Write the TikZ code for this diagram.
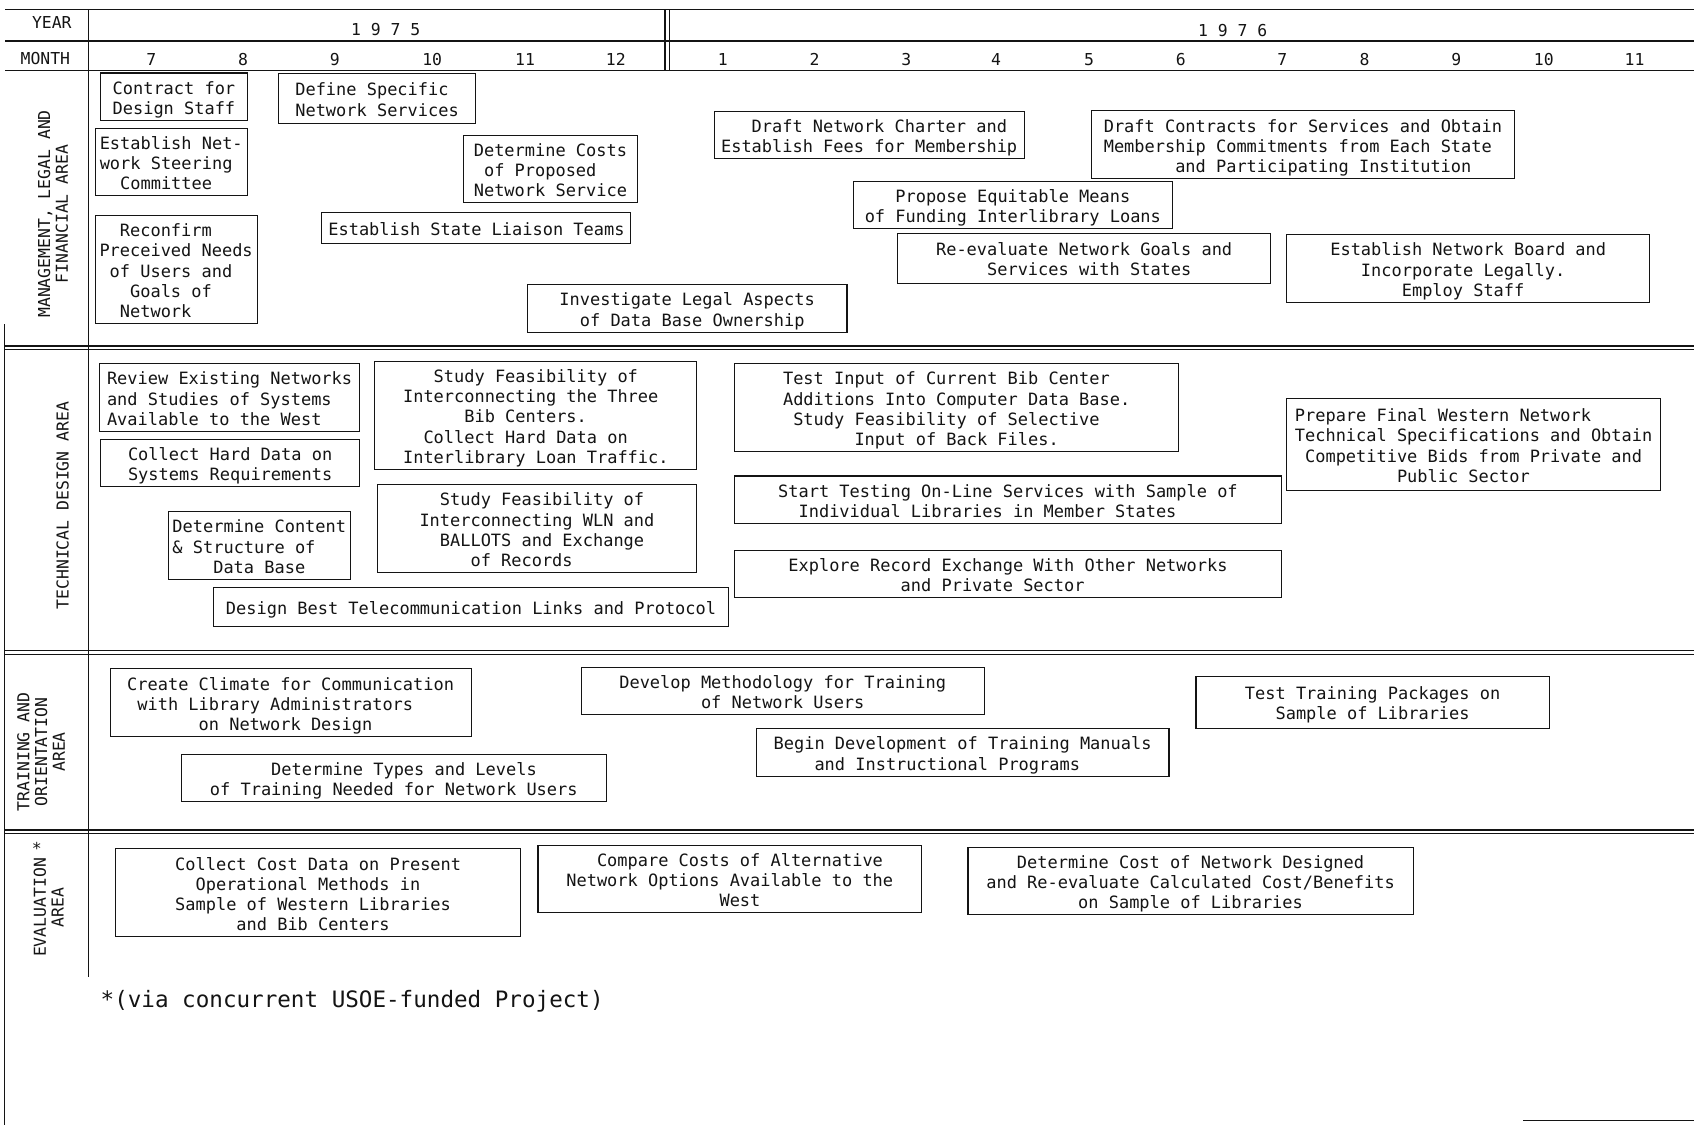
\documentclass[tikz,border=0pt]{standalone}
\usepackage{fontspec}
\newfontfamily\monofam{DejaVu Sans Mono}
\newlength\chw
\setlength\chw{9.45pt}
\newcommand\ind[1]{\hspace*{#1\chw}}
\definecolor{ink}{gray}{0.08}
\tikzset{
  boxtxt/.style={font=\monofam\fontsize{15.7pt}{18.8pt}\selectfont},
  taskbox/.style={draw=ink, line width=1pt, inner sep=0pt, align=left, text=ink, boxtxt},
  lbl/.style={inner sep=0pt, text=ink, align=center, font=\monofam\fontsize{15.2pt}{16.5pt}\selectfont},
  rule/.style={draw=ink, line width=1.2pt},
  divider/.style={draw=ink, line width=1.5pt},
  thinrule/.style={draw=ink, line width=0.8pt},
}
\newcommand\bx[6]{%
  \pgfmathsetmacro\tkW{#4-#2}\pgfmathsetmacro\tkH{#5-#3}%
  \pgfmathsetmacro\tkX{(#2+#4)/2}\pgfmathsetmacro\tkY{(#3+#5)/2}%
  \node[taskbox, minimum width=\tkW pt, minimum height=\tkH pt] (#1) at (\tkX,\tkY) {\rule{0pt}{19.5pt}#6\rule[-5.5pt]{0pt}{5.5pt}};}
\begin{document}
\begin{tikzpicture}[x=1pt,y=-1pt]
\fill[white] (0,0) rectangle (1568,1041);
\useasboundingbox (0,0) rectangle (1568,1041);

% header grid
\draw[rule] (5,9) -- (1568,9);
\draw[rule] (5,38) -- (1568,38);
\draw[rule] (5,65) -- (1568,65);
\draw[rule] (82,9) -- (82,904);
\draw[rule] (615.5,9) -- (615.5,65);
\draw[rule] (620,9) -- (620,65);
\draw[rule] (4,300) -- (4,1041);
% section dividers
\foreach \yy in {320,602,768}{
  \draw[divider] (4,\yy) -- (1568,\yy);
  \draw[thinrule] (4,\yy+3.5) -- (1568,\yy+3.5);
}
\draw[divider] (1410,1037) -- (1568,1037);

% header text
\node[lbl] (year) at (48,21) {YEAR};
\node[lbl] (month) at (42,54) {MONTH};
\node[lbl] (y75) at (357,27) {1 9 7 5};
\node[lbl] (y76) at (1141,28) {1 9 7 6};
\foreach \mx/\mt [count=\i] in {140/7,225/8,310/9,400/10,486/11,570/12,669/1,754/2,839/3,922/4,1008/5,1093/6,1187/7,1263/8,1348/9,1429/10,1513/11}{
  \node[lbl] (m\i) at (\mx,55) {\mt};
}

% area labels
\node[lbl, rotate=90] (lman) at (49,198) {MANAGEMENT, LEGAL AND\\FINANCIAL AREA};
\node[lbl, rotate=90] (ltech) at (58,468) {TECHNICAL DESIGN AREA};
\node[lbl, rotate=90] (ltrain) at (38,696) {TRAINING AND\\ORIENTATION\\AREA};
\node[lbl, rotate=90] (leval) at (45,840) {EVALUATION\\AREA};
\node[lbl] (star) at (34,785) {*};

% management
\bx{b1}{93}{69}{229}{110}{Contract for\\Design Staff}
\bx{b2}{258}{68}{440}{114}{Define Specific\\Network Services}
\bx{b3}{88}{120}{229}{180}{Establish Net-\\work Steering\\\ind{2}Committee}
\bx{b4}{429}{126}{590}{187}{Determine Costs\\\ind{1}of Proposed\\Network Service}
\bx{b5}{298}{197}{584}{225}{Establish State Liaison Teams}
\bx{b6}{88}{200}{238}{299}{\ind{2}Reconfirm\\Preceived Needs\\\ind{1}of Users and\\\ind{3}Goals of\\\ind{2}Network}
\bx{b7}{488}{264}{784}{307}{Investigate Legal Aspects\\\ind{2}of Data Base Ownership}
\bx{b8}{661}{104}{948}{146}{\ind{3}Draft Network Charter and\\Establish Fees for Membership}
\bx{b9}{1010}{104}{1402}{164}{Draft Contracts for Services and Obtain\\Membership Commitments from Each State\\\ind{7}and Participating Institution}
\bx{b10}{790}{168}{1085}{211}{\ind{3}Propose Equitable Means\\of Funding Interlibrary Loans}
\bx{b11}{831}{216}{1176}{262}{Re-evaluate Network Goals and\\\ind{5}Services with States}
\bx{b12}{1191}{217}{1527}{280}{Establish Network Board and\\\ind{3}Incorporate Legally.\\\ind{7}Employ Staff}

% technical
\bx{b13}{92}{338}{333}{398}{Review Existing Networks\\and Studies of Systems\\Available to the West}
\bx{b14}{93}{407}{333}{450}{Collect Hard Data on\\Systems Requirements}
\bx{b15}{347}{336}{645}{433}{\ind{3}Study Feasibility of\\Interconnecting the Three\\\ind{6}Bib Centers.\\\ind{2}Collect Hard Data on\\Interlibrary Loan Traffic.}
\bx{b16}{156}{475}{324}{535}{Determine Content\\\& Structure of\\\ind{4}Data Base}
\bx{b17}{349}{449}{645}{530}{\ind{2}Study Feasibility of\\Interconnecting WLN and\\\ind{2}BALLOTS and Exchange\\\ind{5}of Records}
\bx{b18}{198}{544}{674}{580}{Design Best Telecommunication Links and Protocol}
\bx{b19}{680}{337}{1091}{418}{Test Input of Current Bib Center\\Additions Into Computer Data Base.\\\ind{1}Study Feasibility of Selective\\\ind{7}Input of Back Files.}
\bx{b20}{680}{441}{1186}{484}{Start Testing On-Line Services with Sample of\\\ind{2}Individual Libraries in Member States}
\bx{b21}{680}{510}{1186}{553}{Explore Record Exchange With Other Networks\\\ind{11}and Private Sector}
\bx{b22}{1191}{369}{1537}{454}{Prepare Final Western Network\\Technical Specifications and Obtain\\\ind{1}Competitive Bids from Private and\\\ind{10}Public Sector}

% training
\bx{b23}{102}{619}{436}{682}{Create Climate for Communication\\\ind{1}with Library Administrators\\\ind{7}on Network Design}
\bx{b24}{168}{698}{561}{742}{\ind{6}Determine Types and Levels\\of Training Needed for Network Users}
\bx{b25}{538}{618}{911}{661}{Develop Methodology for Training\\\ind{8}of Network Users}
\bx{b26}{700}{675}{1082}{718}{Begin Development of Training Manuals\\\ind{4}and Instructional Programs}
\bx{b27}{1107}{626}{1434}{674}{Test Training Packages on\\\ind{3}Sample of Libraries}

% evaluation
\bx{b28}{107}{788}{482}{865}{Collect Cost Data on Present\\\ind{2}Operational Methods in\\Sample of Western Libraries\\\ind{6}and Bib Centers}
\bx{b29}{498}{784}{853}{843}{\ind{3}Compare Costs of Alternative\\Network Options Available to the\\\ind{15}West}
\bx{b30}{896}{786}{1308}{845}{\ind{3}Determine Cost of Network Designed\\and Re-evaluate Calculated Cost/Benefits\\\ind{9}on Sample of Libraries}

% footnote
\node[anchor=west, inner sep=0pt, text=ink, font=\monofam\fontsize{20.9pt}{24pt}\selectfont] (fn) at (93,927) {*(via concurrent USOE-funded Project)};
\end{tikzpicture}
\end{document}
